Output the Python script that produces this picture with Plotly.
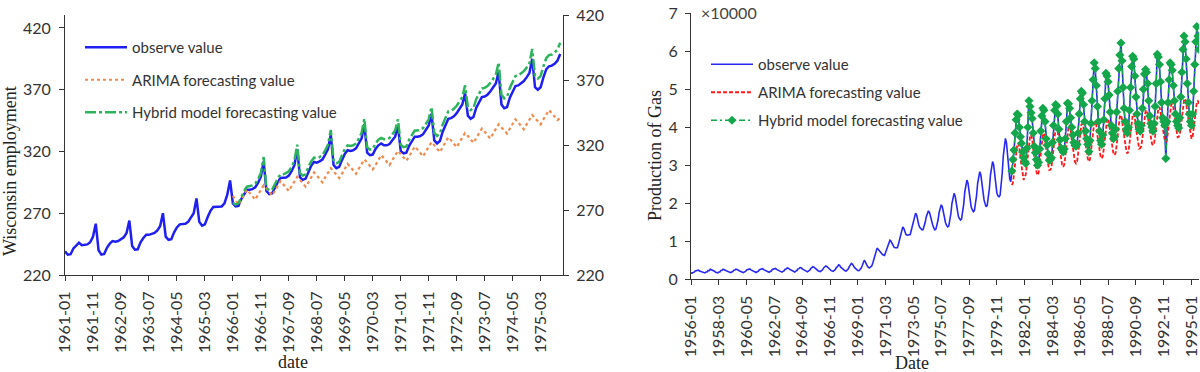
import pandas as pd
import plotly.graph_objects as go

# ---------------- data: Wisconsin employment (left panel) ----------------
wis_months = [d.strftime("%Y-%m") for d in pd.date_range("1961-01-01", periods=178, freq="MS")]
wis_observed = [
    239.2, 236.4, 236.8, 241.5, 243.7, 246.1, 244.1, 244.2, 244.8, 246.6, 250.9, 261.5,
    240.0, 236.5, 237.0, 242.0, 245.5, 247.5, 247.0, 247.5, 248.8, 250.5, 254.0, 264.0,
    243.5, 240.5, 240.8, 246.5, 250.0, 252.5, 252.5, 253.0, 254.0, 256.0, 259.5, 270.0,
    251.0, 248.5, 249.0, 254.5, 258.5, 261.0, 261.0, 261.5, 263.0, 266.5, 270.0, 282.0,
    263.0, 260.0, 261.0, 267.0, 272.0, 275.0, 275.0, 275.0, 275.5, 278.0, 285.0, 296.5,
    278.0, 275.5, 276.0, 281.5, 285.5, 289.0, 289.0, 289.5, 291.0, 294.5, 299.5, 312.0,
    288.0, 285.5, 286.0, 291.0, 295.0, 298.5, 298.5, 299.0, 300.5, 304.0, 309.0, 322.0,
    299.0, 297.0, 298.0, 304.0, 308.5, 311.5, 311.0, 312.0, 313.5, 317.5, 322.0, 333.5,
    309.0, 306.5, 307.5, 313.0, 318.0, 321.0, 320.5, 321.0, 322.5, 326.5, 330.5, 342.0,
    319.0, 317.0, 317.5, 322.0, 325.0, 326.5, 325.0, 325.0, 326.0, 329.0, 332.0, 341.0,
    320.5, 318.5, 319.0, 324.5, 328.5, 332.0, 332.0, 332.5, 334.0, 337.5, 341.0, 350.5,
    329.0, 326.5, 328.5, 336.0, 342.0, 346.5, 347.0, 348.5, 351.0, 355.0, 358.0, 367.0,
    349.0, 346.5, 348.0, 355.5, 360.0, 364.0, 364.5, 366.0, 368.5, 372.0, 375.0, 384.5,
    358.0, 355.0, 356.0, 363.5, 369.0, 373.0, 373.5, 375.0, 377.0, 380.0, 383.5, 395.0,
    372.0, 370.0, 372.0, 380.0, 386.5, 389.0, 389.5, 391.0, 393.5, 399.0,
]
wis_forecast_start = "1966-01"
wis_arima = [
    284.0, 280.0, 277.0, 281.0, 285.0, 289.0, 286.5, 283.5, 281.0, 285.0, 289.0, 292.5,
    290.0, 287.0, 284.5, 288.0, 292.0, 296.0, 293.5, 290.5, 288.0, 292.0, 296.0, 299.5,
    297.0, 294.0, 291.5, 295.0, 299.0, 303.0, 300.5, 297.5, 295.0, 299.0, 303.0, 306.5,
    304.0, 301.0, 298.5, 302.0, 306.0, 310.0, 307.5, 304.5, 302.0, 306.0, 310.0, 313.5,
    311.0, 308.0, 305.5, 309.0, 313.0, 317.0, 314.5, 311.5, 309.0, 313.0, 317.0, 320.5,
    318.0, 315.0, 312.5, 316.0, 320.0, 324.0, 321.5, 318.5, 316.0, 320.0, 324.0, 327.5,
    325.0, 322.0, 319.5, 323.5, 327.5, 331.5, 329.0, 326.0, 323.5, 327.5, 331.5, 335.0,
    332.5, 329.5, 327.0, 331.0, 335.0, 338.5, 336.0, 333.0, 330.5, 334.5, 338.5, 342.0,
    339.5, 337.0, 334.5, 338.5, 342.5, 346.0, 343.5, 340.5, 338.0, 342.0, 346.0, 349.5,
    347.0, 344.5, 342.0, 346.0, 350.0, 353.5, 351.0, 348.0, 345.5, 347.0,
]
wis_hybrid = [
    278.5, 277.0, 278.0, 283.5, 288.0, 291.5, 292.0, 292.5, 294.0, 297.5, 302.5, 315.5,
    290.5, 288.5, 289.0, 294.0, 298.0, 301.5, 301.5, 302.5, 304.0, 307.5, 312.5, 325.5,
    302.5, 300.5, 301.5, 307.5, 312.0, 315.0, 314.5, 315.5, 317.0, 321.0, 325.5, 337.5,
    313.0, 310.5, 311.5, 317.0, 322.0, 325.0, 324.5, 325.0, 326.5, 330.5, 335.0, 346.5,
    323.5, 321.5, 322.0, 326.5, 329.5, 331.0, 330.0, 330.0, 331.0, 334.0, 337.0, 346.0,
    325.5, 323.5, 324.0, 329.5, 333.5, 337.0, 337.0, 337.5, 339.0, 342.5, 346.0, 356.0,
    335.0, 332.5, 334.5, 342.0, 348.0, 352.5, 353.0, 354.5, 357.0, 361.0, 364.0, 373.5,
    356.0, 353.5, 355.0, 362.5, 367.0, 371.0, 371.5, 373.0, 375.5, 379.0, 382.0, 392.0,
    366.0, 363.0, 364.0, 371.5, 377.0, 381.0, 381.5, 383.0, 385.0, 388.0, 391.5, 403.0,
    381.0, 379.0, 381.0, 389.0, 395.5, 398.0, 398.5, 400.0, 402.5, 408.0,
]
wis_yticks = [220, 270, 320, 370, 420]

# ---------------- data: Production of Gas (right panel) ----------------
gas_months = [d.strftime("%Y-%m") for d in pd.date_range("1956-01-01", periods=476, freq="MS")]
gas_observed = [
    1709, 1646, 1794, 1878, 2173, 2321, 2468, 2416, 2184, 2121, 1962, 1825,
    1751, 1688, 1920, 1941, 2311, 2279, 2638, 2520, 2372, 2186, 2119, 1833,
    1788, 1712, 1926, 1939, 2340, 2362, 2659, 2607, 2400, 2233, 2132, 1888,
    1821, 1744, 1924, 2038, 2400, 2436, 2689, 2656, 2430, 2260, 2150, 1912,
    1855, 1760, 1960, 2080, 2460, 2510, 2760, 2710, 2480, 2310, 2190, 1950,
    1890, 1800, 2010, 2130, 2520, 2580, 2830, 2790, 2540, 2360, 2240, 2000,
    1930, 1840, 2050, 2180, 2580, 2650, 2910, 2860, 2600, 2420, 2290, 2040,
    1970, 1880, 2100, 2240, 2650, 2720, 3000, 2940, 2670, 2480, 2340, 2090,
    2010, 1920, 2150, 2300, 2720, 2800, 3090, 3020, 2740, 2550, 2400, 2140,
    2050, 1960, 2200, 2380, 2850, 2980, 3300, 3200, 2880, 2650, 2480, 2200,
    2120, 2030, 2300, 2500, 3000, 3150, 3500, 3400, 3020, 2760, 2580, 2280,
    2180, 2090, 2380, 2600, 3150, 3350, 3800, 3650, 3200, 2900, 2700, 2380,
    2250, 2150, 2450, 2700, 3350, 3650, 4200, 3950, 3400, 3050, 2800, 2450,
    2300, 2250, 2550, 2900, 3500, 4300, 5000, 4600, 3900, 3400, 3100, 3000,
    3300, 3500, 4300, 5300, 6600, 7600, 8200, 7900, 7500, 7000, 6700, 6500,
    6400, 6300, 7100, 7900, 9000, 9800, 10300, 10000, 9300, 8700, 8400, 8300,
    8200, 8300, 9300, 10500, 12100, 13200, 13800, 13400, 12300, 11800, 11600, 11700,
    11700, 11800, 12900, 14000, 15800, 16900, 17400, 16900, 15400, 14300, 13600, 13200,
    13000, 13100, 14000, 15000, 16500, 17500, 18000, 17600, 16300, 15200, 14300, 13500,
    13000, 13200, 14300, 15600, 17600, 18900, 19600, 19100, 17500, 16000, 14900, 14200,
    13800, 14000, 15600, 17300, 20000, 21700, 22600, 21900, 19800, 17900, 16600, 16000,
    15600, 15900, 17700, 19800, 23000, 25000, 26100, 25300, 22700, 20500, 19000, 18300,
    17800, 18100, 19900, 22000, 25200, 27300, 28300, 27500, 24900, 22600, 20900, 19900,
    19100, 19500, 21500, 23900, 27400, 29800, 31000, 30100, 27200, 24500, 22700, 22000,
    21700, 22100, 24700, 27900, 32500, 35600, 37100, 35900, 32200, 28900, 26500, 25700,
    27900, 30800, 33500, 38000, 41500, 44100, 42800, 40500, 37000, 35200, 33000, 31500,
    30500, 29800, 34000, 39500, 47600, 45000, 44200, 41800, 38000, 34500, 32800, 31000,
    29600, 30200, 33800, 38500, 42500, 45400, 44000, 41000, 36500, 34800, 32500, 30800,
    31000, 31500, 35500, 40000, 44000, 46300, 45200, 43000, 39000, 36200, 34000, 33500,
    33000, 33800, 36500, 41000, 46700, 45800, 44500, 42000, 39500, 37500, 35500, 34800,
    34500, 35000, 38000, 43000, 47000, 49800, 48500, 45500, 41000, 38500, 36500, 35000,
    33100, 36000, 40500, 46500, 52000, 57300, 55000, 50500, 45000, 41000, 38500, 36000,
    35000, 37500, 41500, 47000, 54600, 53000, 51500, 48000, 43500, 40000, 38000, 36500,
    37000, 39000, 43500, 49000, 55000, 59500, 62500, 57000, 50000, 44500, 41000, 39000,
    38000, 39500, 44000, 50000, 55500, 59000, 57500, 53000, 47500, 43000, 40500, 39000,
    38500, 40000, 44500, 49500, 53500, 55500, 54000, 51000, 46500, 42500, 40500, 39500,
    38500, 40500, 45000, 51000, 59500, 58000, 56000, 51500, 46000, 42000, 41000, 40000,
    31400, 41000, 46000, 52000, 57300, 56000, 54500, 50500, 46500, 43000, 41000, 40000,
    39300, 42000, 47500, 54000, 60000, 64300, 62000, 57500, 51000, 46000, 43000, 41000,
    40000, 43000, 49000, 56000, 62000, 66900, 63500, 60000,
]
gas_forecast_start = "1981-01"
gas_arima = [
    24800, 25350, 27550, 30300, 33600, 35470, 35800, 34700, 31950, 29420, 27550, 26120,
    27000, 27550, 29750, 32500, 35800, 37670, 38000, 36900, 34150, 31620, 29750, 28320,
    27400, 27950, 30150, 32900, 36200, 38070, 38400, 37300, 34550, 32020, 30150, 28720,
    28800, 29350, 31550, 34300, 37600, 39470, 39800, 38700, 35950, 33420, 31550, 30120,
    29600, 30150, 32350, 35100, 38400, 40270, 40600, 39500, 36750, 34220, 32350, 30920,
    30500, 31025, 33125, 35750, 38900, 40685, 41000, 39950, 37325, 34910, 33125, 31760,
    31000, 31525, 33625, 36250, 39400, 41185, 41500, 40450, 37825, 35410, 33625, 32260,
    31800, 32325, 34425, 37050, 40200, 41985, 42300, 41250, 38625, 36210, 34425, 33060,
    32700, 33225, 35325, 37950, 41100, 42885, 43200, 42150, 39525, 37110, 35325, 33960,
    33100, 33625, 35725, 38350, 41500, 43285, 43600, 42550, 39925, 37510, 35725, 34360,
    34500, 35000, 37000, 39500, 42500, 44200, 44500, 43500, 41000, 38700, 37000, 35700,
    35300, 35800, 37800, 40300, 43300, 45000, 45300, 44300, 41800, 39500, 37800, 36500,
    36200, 36700, 38700, 41200, 44200, 45900, 46200, 45200, 42700, 40400, 38700, 37400,
    37500, 38000, 40000, 42500, 45500, 47200, 47500, 46500, 44000, 41700, 40000, 38700,
    37000, 37500, 39500, 42000, 45000, 46700, 47000, 46000,
]
gas_hybrid = [
    28500, 31500, 34000, 38500, 42000, 43500, 43200, 40000, 37500, 35800, 33500, 32000,
    31000, 30500, 34500, 40000, 47000, 45500, 43800, 42300, 38500, 35000, 33300, 31500,
    30000, 30800, 34300, 39000, 43000, 45000, 44500, 41500, 37000, 35300, 33000, 31300,
    31500, 32000, 36000, 40500, 44500, 46000, 45600, 43500, 39500, 36700, 34500, 34000,
    33500, 34300, 37000, 41500, 46300, 46200, 45000, 42500, 40000, 38000, 36000, 35300,
    35000, 35500, 38500, 43500, 47500, 49500, 49000, 46000, 41500, 39000, 37000, 35500,
    33600, 36500, 41000, 47000, 52500, 57000, 55500, 51000, 45500, 41500, 39000, 36500,
    35500, 38000, 42000, 47500, 54200, 53500, 52000, 48500, 44000, 40500, 38500, 37000,
    37500, 39500, 44000, 49500, 55500, 59000, 62200, 57500, 50500, 45000, 41500, 39500,
    38500, 40000, 44500, 50500, 56000, 58700, 58000, 53500, 48000, 43500, 41000, 39500,
    39000, 40500, 45000, 50000, 54000, 55200, 54500, 51500, 47000, 43000, 41000, 40000,
    39000, 41000, 45500, 51500, 59200, 58500, 56500, 52000, 46500, 42500, 41500, 40500,
    31800, 41500, 46500, 52500, 57000, 56500, 55000, 51000, 47000, 43500, 41500, 40500,
    39800, 42500, 48000, 54500, 60500, 64000, 62500, 58000, 51500, 46500, 43500, 41500,
    40500, 43500, 49500, 56500, 62500, 66500, 64000, 60500,
]
gas_yticks = [0, 10000, 20000, 30000, 40000, 50000, 60000, 70000]
gas_ytick_text = ["0", "1", "2", "3", "4", "5", "6", "7"]

# ---------------- figure ----------------
W, H = 1200, 372
TICK_FONT = dict(family="Lato, 'Open Sans', sans-serif", size=16, color="#333333")
TITLE_FONT = dict(family="'Liberation Serif', 'Times New Roman', serif", size=18, color="#222222")
LEG_FONT = dict(family="Lato, 'Open Sans', sans-serif", size=15, color="#333333")

wis_fc_idx = wis_months.index(wis_forecast_start)
gas_fc_idx = gas_months.index(gas_forecast_start)

fig = go.Figure()
fig.add_trace(go.Scatter(x=wis_months, y=wis_observed, name="observe value", mode="lines",
                         line=dict(color="#1F1FF2", width=2.5), xaxis="x", yaxis="y",
                         legend="legend", legendgroup="w1"))
fig.add_trace(go.Scatter(x=wis_months[wis_fc_idx:], y=wis_arima, name="ARIMA forecasting value",
                         mode="lines", line=dict(color="#F28A4C", width=2.2, dash="dot"),
                         xaxis="x", yaxis="y", legend="legend", legendgroup="w2"))
fig.add_trace(go.Scatter(x=wis_months[wis_fc_idx:], y=wis_hybrid, name="Hybrid model forecasting value",
                         mode="lines", line=dict(color="#2DB35C", width=2.5, dash="11px,3px,3px,3px"),
                         xaxis="x", yaxis="y", legend="legend", legendgroup="w3"))
# right-hand duplicate scale of the left panel
fig.add_trace(go.Scatter(x=wis_months[:1], y=wis_yticks[:1], mode="markers", marker=dict(opacity=0),
                         xaxis="x", yaxis="y3", showlegend=False, hoverinfo="skip"))

fig.add_trace(go.Scatter(x=gas_months, y=gas_observed, name="observe value", mode="lines",
                         line=dict(color="#2828F5", width=1.6), xaxis="x2", yaxis="y2",
                         legend="legend2", legendgroup="g1"))
fig.add_trace(go.Scatter(x=gas_months[gas_fc_idx:], y=gas_arima, name="ARIMA forecasting value",
                         mode="lines", line=dict(color="#FF1A1A", width=1.8, dash="4px,2px"),
                         xaxis="x2", yaxis="y2", legend="legend2", legendgroup="g2"))
fig.add_trace(go.Scatter(x=gas_months[gas_fc_idx:], y=gas_hybrid, name="Hybrid model forecasting value",
                         mode="lines+markers", line=dict(color="#14A64A", width=1.4, dash="6px,3px,2px,3px"),
                         marker=dict(symbol="diamond", size=7, color="#14A64A"),
                         xaxis="x2", yaxis="y2", legend="legend2", legendgroup="g3"))

def px_x(px):
    return px / W

def px_y(py):
    return 1 - py / H

axis_common = dict(showgrid=False, zeroline=False, showline=True, linecolor="#333333", linewidth=1,
                   ticks="outside", ticklen=5, tickcolor="#333333", tickwidth=1, tickfont=TICK_FONT,
                   automargin=False)

fig.update_layout(
    width=W, height=H, margin=dict(l=0, r=0, t=0, b=0, pad=0, autoexpand=False),
    paper_bgcolor="white", plot_bgcolor="white", showlegend=True,
    xaxis=dict(axis_common, type="category", domain=[px_x(65), px_x(563)], range=[0, 178],
               tickvals=wis_months[::10], tickangle=-90, anchor="y", ticklabelstandoff=4),
    yaxis=dict(axis_common, domain=[px_y(275), px_y(15)], range=[220, 430.5],
               tickvals=wis_yticks, anchor="x", ticklabelstandoff=5),
    yaxis3=dict(axis_common, overlaying="y", side="right", anchor="x", range=[220, 420],
                tickvals=wis_yticks, ticklabelstandoff=4),
    xaxis2=dict(axis_common, type="category", domain=[px_x(691), px_x(1199)], range=[0, 475],
                tickvals=gas_months[::26], tickangle=-90, anchor="y2", ticklabelstandoff=4),
    yaxis2=dict(axis_common, domain=[px_y(279.3), px_y(13.3)], range=[0, 70000],
                tickvals=gas_yticks, ticktext=gas_ytick_text, anchor="x2", ticklabelstandoff=4),
    legend=dict(x=px_x(80), y=px_y(31), xanchor="left", yanchor="top", bgcolor="rgba(0,0,0,0)",
                font=LEG_FONT, tracegroupgap=10, traceorder="grouped", itemwidth=42),
    legend2=dict(x=px_x(706), y=px_y(48), xanchor="left", yanchor="top", bgcolor="rgba(0,0,0,0)",
                 font=LEG_FONT, tracegroupgap=5.5, traceorder="grouped", itemwidth=42),
    annotations=[
        dict(text="Wisconsin employment", x=px_x(10), y=px_y(171), xref="paper", yref="paper",
             textangle=-90, showarrow=False, font=TITLE_FONT, xanchor="center", yanchor="middle"),
        dict(text="date", x=px_x(293), y=px_y(362), xref="paper", yref="paper",
             showarrow=False, font=TITLE_FONT, xanchor="center", yanchor="middle"),
        dict(text="Production of Gas", x=px_x(655), y=px_y(155), xref="paper", yref="paper",
             textangle=-90, showarrow=False, font=TITLE_FONT, xanchor="center", yanchor="middle"),
        dict(text="Date", x=px_x(912), y=px_y(363), xref="paper", yref="paper",
             showarrow=False, font=TITLE_FONT, xanchor="center", yanchor="middle"),
        dict(text="×10000", x=px_x(699), y=px_y(1), xref="paper", yref="paper",
             showarrow=False, font=dict(family="Lato, sans-serif", size=16, color="#444444"),
             xanchor="left", yanchor="top"),
    ],
)

fig.write_html("out.html", config={"displayModeBar": False},
               post_script="document.body.style.margin='0';document.body.style.padding='0';"
                           "document.body.style.overflow='hidden';")
